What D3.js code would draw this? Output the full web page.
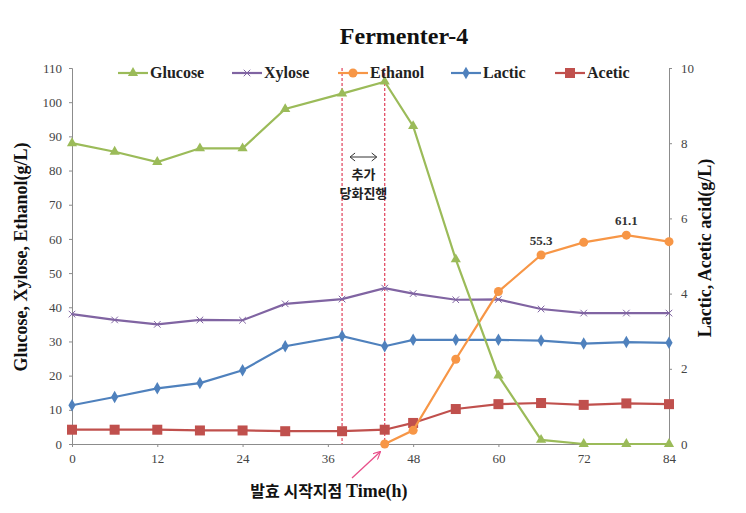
<!DOCTYPE html>
<html><head><meta charset="utf-8">
<script src="https://cdn.jsdelivr.net/npm/d3@7"></script>
<style>body{margin:0;background:#fff}svg{display:block}</style>
</head><body><svg id="c" width="746" height="513"></svg>
<script>
const hours = [0, 6, 12, 18, 24, 30, 38, 44, 48, 54, 60, 66, 72, 78, 84];
const glucose = [88, 85.5, 82.5, 86.5, 86.5, 98, 102.5, 106, 93, 54, 20, 1.2, 0, 0, 0];
const xylose = [38, 36.3, 35, 36.3, 36.2, 41, 42.4, 45.6, 44, 42.2, 42.3, 39.5, 38.3, 38.3, 38.3];
const ethanolHours = [44, 48, 54, 60, 66, 72, 78, 84];
const ethanol = [0, 4, 24.8, 44.6, 55.3, 59, 61.1, 59.2];
const lactic = [1.03, 1.25, 1.48, 1.62, 1.96, 2.6, 2.87, 2.6, 2.77, 2.77, 2.77, 2.75, 2.67, 2.71, 2.69];
const acetic = [0.38, 0.38, 0.38, 0.36, 0.36, 0.34, 0.34, 0.38, 0.56, 0.93, 1.06, 1.09, 1.04, 1.08, 1.06];
const xTicks = [0, 12, 24, 36, 48, 60, 72, 84];
const leftTicks = [0, 10, 20, 30, 40, 50, 60, 70, 80, 90, 100, 110];
const rightTicks = [0, 2, 4, 6, 8, 10];
const markerLines = [38, 44];
const valueLabels = [{h: 66, v: 55.3, t: "55.3"}, {h: 78, v: 61.1, t: "61.1"}];

const svg = d3.select("#c");
const x = d3.scaleLinear().domain([0, 84]).range([72, 669]);
const yL = d3.scaleLinear().domain([0, 110]).range([444, 68]);
const yR = d3.scaleLinear().domain([0, 10]).range([444, 68]);
const axisColor = "#8c8c8c";
const serif = "'Liberation Serif', 'Times New Roman', serif";

// title
svg.append("text").attr("x", 404).attr("y", 44).attr("text-anchor", "middle")
  .attr("font-family", serif).attr("font-weight", "bold").attr("font-size", 24).attr("fill", "#111").text("Fermenter-4");

// axes
const gx = svg.append("g").attr("transform", "translate(0,444)")
  .call(d3.axisBottom(x).tickValues(xTicks).tickSize(3).tickPadding(7));
const gl = svg.append("g").attr("transform", "translate(72,0)")
  .call(d3.axisLeft(yL).tickValues(leftTicks).tickSize(3).tickPadding(7));
const gr = svg.append("g").attr("transform", "translate(669,0)")
  .call(d3.axisRight(yR).tickValues(rightTicks).tickSize(3).tickPadding(9));
[gx, gl, gr].forEach(g => {
  g.selectAll("path,line").attr("stroke", axisColor);
  g.selectAll("text").attr("font-family", serif).attr("font-size", 13).attr("fill", "#444");
});

// dashed vertical lines
svg.selectAll(".vl").data(markerLines).enter().append("line")
  .attr("x1", d => x(d)).attr("x2", d => x(d)).attr("y1", yL(110)).attr("y2", yL(0))
  .attr("stroke", "#e0405a").attr("stroke-width", 1.2).attr("stroke-dasharray", "3,2");

// annotation between dashed lines
const mx = (x(38) + x(44)) / 2;
svg.append("line").attr("x1", x(38) + 8).attr("x2", x(44) - 8).attr("y1", 157).attr("y2", 157)
  .attr("stroke", "#333").attr("stroke-width", 1);
[[x(38) + 8, 1], [x(44) - 8, -1]].forEach(([px, s]) => {
  svg.append("path").attr("d", `M${px + 5 * s},${153} L${px},157 L${px + 5 * s},${161}`)
    .attr("fill", "none").attr("stroke", "#333").attr("stroke-width", 1);
});
svg.append("text").attr("x", mx).attr("y", 179).attr("text-anchor", "middle")
  .attr("font-family", "'Noto Sans CJK KR'").attr("font-weight", "bold").attr("font-size", 13).attr("fill", "#222").text("추가");
svg.append("text").attr("x", mx).attr("y", 198).attr("text-anchor", "middle")
  .attr("font-family", "'Noto Sans CJK KR'").attr("font-weight", "bold").attr("font-size", 13).attr("fill", "#222").text("당화진행");

// axis titles
svg.append("text").attr("transform", "translate(27,257) rotate(-90)").attr("text-anchor", "middle")
  .attr("font-family", serif).attr("font-weight", "bold").attr("font-size", 18).attr("fill", "#111")
  .text("Glucose, Xylose, Ethanol(g/L)");
svg.append("text").attr("transform", "translate(711,248) rotate(-90)").attr("text-anchor", "middle")
  .attr("font-family", serif).attr("font-weight", "bold").attr("font-size", 18).attr("fill", "#111")
  .text("Lactic, Acetic acid(g/L)");
const xt = svg.append("text").attr("x", 329).attr("y", 497).attr("text-anchor", "middle")
  .attr("font-weight", "bold").attr("font-size", 18).attr("fill", "#111");
xt.append("tspan").attr("font-family", "'Noto Sans CJK KR'").attr("font-size", 16).text("발효 시작지점 ");
xt.append("tspan").attr("font-family", serif).text("Time(h)");

// pink arrow to fermentation start
svg.append("defs").append("marker").attr("id", "ah").attr("viewBox", "0 0 10 10").attr("refX", 9).attr("refY", 5)
  .attr("markerWidth", 6).attr("markerHeight", 6).attr("orient", "auto")
  .append("path").attr("d", "M0,0 L10,5 L0,10").attr("fill", "none").attr("stroke", "#e8508a").attr("stroke-width", 1.5);
svg.append("line").attr("x1", 352).attr("y1", 478).attr("x2", 380).attr("y2", 452)
  .attr("stroke", "#e8508a").attr("stroke-width", 1.3).attr("marker-end", "url(#ah)");

// series
const series = [
  {name: "Glucose", color: "#9bbb59", hs: hours, vs: glucose, y: yL, sym: "tri"},
  {name: "Xylose", color: "#8064a2", hs: hours, vs: xylose, y: yL, sym: "x"},
  {name: "Ethanol", color: "#f79646", hs: ethanolHours, vs: ethanol, y: yL, sym: "circle"},
  {name: "Lactic", color: "#4f81bd", hs: hours, vs: lactic, y: yR, sym: "diamond"},
  {name: "Acetic", color: "#c0504d", hs: hours, vs: acetic, y: yR, sym: "square"}
];
function marker(g, sym, color, cx, cy) {
  if (sym === "tri") g.append("path").attr("d", d3.symbol(d3.symbolTriangle, 45)()).attr("transform", `translate(${cx},${cy})`).attr("fill", color);
  else if (sym === "circle") g.append("circle").attr("cx", cx).attr("cy", cy).attr("r", 4.5).attr("fill", color);
  else if (sym === "diamond") g.append("path").attr("d", d3.symbol(d3.symbolDiamond, 45)()).attr("transform", `translate(${cx},${cy})`).attr("fill", color);
  else if (sym === "square") g.append("rect").attr("x", cx - 5).attr("y", cy - 5).attr("width", 10).attr("height", 10).attr("fill", color);
  else if (sym === "x") g.append("path").attr("d", d3.symbol(d3.symbolTimes, 30)()).attr("transform", `translate(${cx},${cy})`).attr("fill", "none").attr("stroke", color).attr("stroke-width", 1);
}
const order = ["Xylose", "Lactic", "Acetic", "Ethanol", "Glucose"];
order.forEach(n => {
  const s = series.find(d => d.name === n);
  const pts = s.hs.map((h, i) => [x(h), s.y(s.vs[i])]);
  const g = svg.append("g");
  g.append("path").attr("d", d3.line()(pts)).attr("fill", "none").attr("stroke", s.color).attr("stroke-width", 2.2);
  pts.forEach(p => marker(g, s.sym, s.color, p[0], p[1]));
});

// value labels
svg.selectAll(".vlab").data(valueLabels).enter().append("text")
  .attr("x", d => x(d.h)).attr("y", d => yL(d.v) - 10).attr("text-anchor", "middle")
  .attr("font-family", serif).attr("font-weight", "bold").attr("font-size", 13).attr("fill", "#333").text(d => d.t);

// legend
const legX = [118, 232, 338, 451, 555];
series.forEach((s, i) => {
  const g = svg.append("g");
  const lx = legX[i], ly = 73;
  g.append("line").attr("x1", lx).attr("x2", lx + 30).attr("y1", ly).attr("y2", ly).attr("stroke", s.color).attr("stroke-width", 2.2);
  marker(g, s.sym, s.color, lx + 15, ly);
  g.append("text").attr("x", lx + 32).attr("y", ly + 5).attr("font-family", serif).attr("font-weight", "bold")
    .attr("font-size", 16).attr("fill", "#222").text(s.name);
});
</script></body></html>
